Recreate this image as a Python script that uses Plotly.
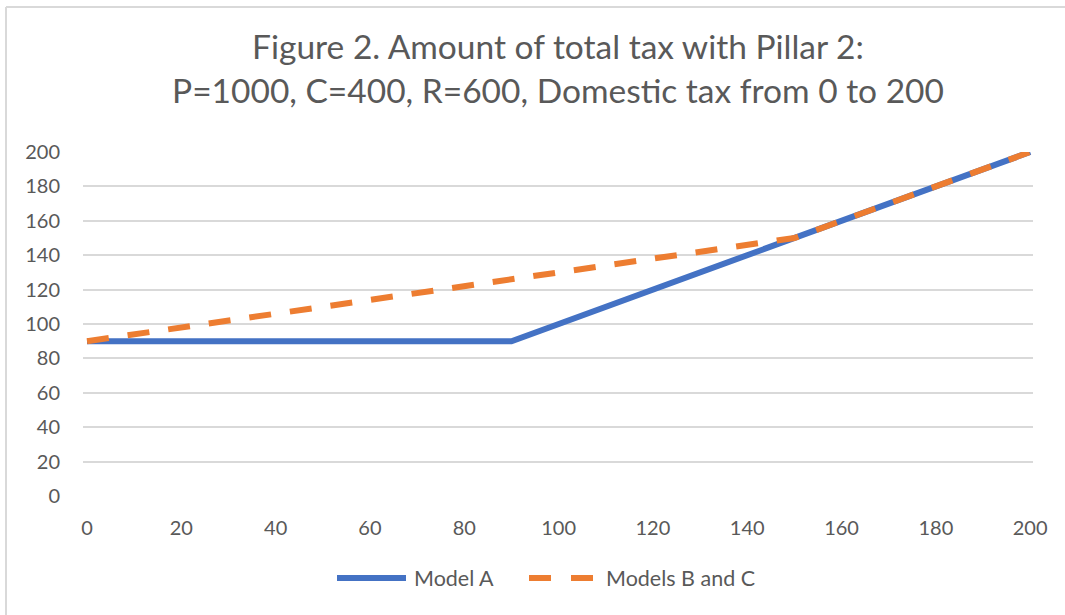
import plotly.graph_objects as go

# Data
model_a_x = [0, 90, 200]
model_a_y = [90, 90, 200]
models_bc_x = [0, 150, 200]
models_bc_y = [90, 150, 200]
x_ticks = [0, 20, 40, 60, 80, 100, 120, 140, 160, 180, 200]
y_ticks = [0, 20, 40, 60, 80, 100, 120, 140, 160, 180, 200]
series_names = ["Model A", "Models B and C"]
series_colors = ["#4472C4", "#ED7D31"]

TXT = "#595959"
GRID = "#d9d9d9"
FONT = "Lato"

fig = go.Figure()
fig.add_trace(go.Scatter(x=model_a_x, y=model_a_y, mode="lines", name=series_names[0],
                         line=dict(color=series_colors[0], width=6), showlegend=False))
fig.add_trace(go.Scatter(x=models_bc_x, y=models_bc_y, mode="lines", name=series_names[1],
                         line=dict(color=series_colors[1], width=6, dash="22px,19px"), showlegend=False))

W, H = 1065, 615
L, R, T, B = 83, 1033, 152, 496

fig.update_layout(
    width=W, height=H,
    margin=dict(l=L, r=W - R, t=T, b=H - B, autoexpand=False),
    paper_bgcolor="white", plot_bgcolor="white",
    font=dict(family=FONT, color=TXT, size=20),
    title=dict(text="Figure 2. Amount of total tax with Pillar 2:<br>P=1000, C=400, R=600, Domestic tax from 0 to 200",
               x=0.5, xanchor="center", xref="paper", y=1 - 59 / H, yanchor="top", yref="container",
               font=dict(family=FONT, size=33.5, color=TXT)),
    xaxis=dict(range=[-0.85, 200.6], tickvals=x_ticks, showgrid=False, zeroline=False,
               showline=False, ticks="", ticklabelstandoff=18, tickfont=dict(size=20, color=TXT)),
    yaxis=dict(range=[0, 200], tickvals=y_ticks, showgrid=True, gridcolor=GRID, gridwidth=2,
               zeroline=False, showline=False, ticks="", ticklabelstandoff=22,
               tickfont=dict(size=20, color=TXT)),
    showlegend=False,
)

pw, ph = R - L, B - T
def px(xp):
    return (xp - L) / pw
def py(yp):
    return (B - yp) / ph

# chart border (top and left edges visible)
fig.add_shape(type="line", xref="paper", yref="paper", x0=px(6), x1=px(1066), y0=py(7), y1=py(7),
              line=dict(color=GRID, width=2))
fig.add_shape(type="line", xref="paper", yref="paper", x0=px(6), x1=px(6), y0=py(7), y1=py(616),
              line=dict(color=GRID, width=2))

# legend (drawn like Excel's: long line samples)
ly = py(578)
fig.add_shape(type="line", xref="paper", yref="paper", x0=px(337), x1=px(406), y0=ly, y1=ly,
              line=dict(color=series_colors[0], width=6))
fig.add_shape(type="line", xref="paper", yref="paper", x0=px(529), x1=px(593), y0=ly, y1=ly,
              line=dict(color=series_colors[1], width=6, dash="22px,20px"))
fig.add_annotation(xref="paper", yref="paper", x=px(412), y=ly, xanchor="left", yanchor="middle",
                   text=series_names[0], showarrow=False, font=dict(size=21.5, color=TXT, family=FONT))
fig.add_annotation(xref="paper", yref="paper", x=px(604), y=ly, xanchor="left", yanchor="middle",
                   text=series_names[1], showarrow=False, font=dict(size=21.5, color=TXT, family=FONT))

fig.write_html("out.html", config={"displayModeBar": False},
               post_script="document.body.style.margin='0';")
